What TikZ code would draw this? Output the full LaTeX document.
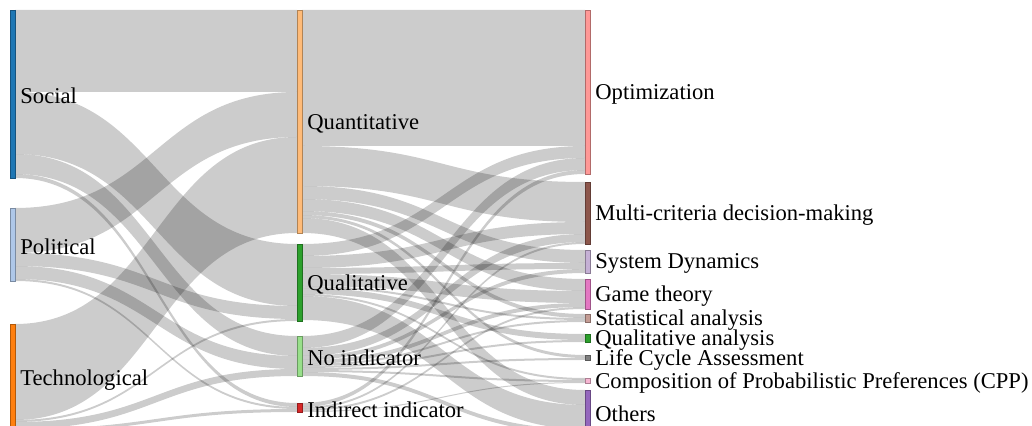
\documentclass[tikz,border=0pt]{standalone}
\usepackage{fontspec}
\setmainfont{Liberation Serif}
\usetikzlibrary{calc,positioning}
\pgfdeclarelayer{bg}
\pgfsetlayers{bg,main}
\newcommand{\px}{0.5pt}
\definecolor{cSoc}{HTML}{1F77B4}
\definecolor{cPol}{HTML}{AEC7E8}
\definecolor{cTech}{HTML}{FF7F0E}
\definecolor{cQuant}{HTML}{FFBB78}
\definecolor{cQual}{HTML}{2CA02C}
\definecolor{cNoInd}{HTML}{98DF8A}
\definecolor{cInd}{HTML}{D62728}
\definecolor{cOpt}{HTML}{FF9896}
\definecolor{cMcdm}{HTML}{8C564B}
\definecolor{cSd}{HTML}{C5B0D5}
\definecolor{cGt}{HTML}{E377C2}
\definecolor{cSa}{HTML}{C49C94}
\definecolor{cQa}{HTML}{2CA02C}
\definecolor{cLca}{HTML}{7F7F7F}
\definecolor{cCpp}{HTML}{F7B6D2}
\definecolor{cOth}{HTML}{9467BD}
\tikzset{
  bar/.style={rectangle, inner sep=0pt, outer sep=0pt, anchor=north west,
    minimum width=5*\px, fill=#1, draw=#1!70!black, line width=0.3pt},
  lbl/.style={inner sep=0pt, yshift=-1pt, font=\fontsize{11.3}{12}\selectfont},
  flow/.style={fill=black, fill opacity=0.2},
}
\begin{document}
\begin{tikzpicture}[x=\px, y=-\px]
  \useasboundingbox (0,0) rectangle (1032,426);
  \clip (0,0) rectangle (1032,426);
  % dimensions
  \node[bar=cSoc, minimum height=168*\px] (soc) at (10,10) {};
  \node[bar=cPol, minimum height=73*\px] (pol) at (10,208) {};
  \node[bar=cTech, minimum height=108*\px] (tech) at (10,324) {};
  % indicators
  \node[bar=cQuant, minimum height=223*\px] (quant) at (297,10) {};
  \node[bar=cQual, minimum height=77*\px] (qual) at (297,244) {};
  \node[bar=cNoInd, minimum height=40*\px] (noind) at (297,336) {};
  \node[bar=cInd, minimum height=9*\px] (indir) at (297,403) {};
  % methods
  \node[bar=cOpt, minimum height=164*\px] (opt) at (585,10) {};
  \node[bar=cMcdm, minimum height=62*\px] (mcdm) at (585,182) {};
  \node[bar=cSd, minimum height=23*\px] (sd) at (585,250) {};
  \node[bar=cGt, minimum height=30*\px] (gt) at (585,279) {};
  \node[bar=cSa, minimum height=8*\px] (sa) at (585,314) {};
  \node[bar=cQa, minimum height=8*\px] (qa) at (585,334) {};
  \node[bar=cLca, minimum height=5*\px] (lca) at (585,355) {};
  \node[bar=cCpp, minimum height=5*\px] (cpp) at (585,378) {};
  \node[bar=cOth, minimum height=43*\px] (oth) at (585,390) {};
  \foreach \n/\t in {soc/Social, pol/Political, tech/Technological,
    quant/Quantitative, qual/Qualitative, noind/No indicator, indir/Indirect indicator,
    opt/Optimization, mcdm/Multi-criteria decision-making, sd/System Dynamics,
    gt/Game theory, sa/Statistical analysis, qa/Qualitative analysis,
    lca/Life Cycle Assessment, cpp/Composition of Probabilistic Preferences (CPP), oth/Others}
    \node[lbl, right=2.5pt of \n] (\n-l) {\t};
  \begin{pgfonlayer}{bg}
    \clip (0,0) rectangle (1032,426);
    \foreach \src/\soff/\dst/\doff/\w in {
      soc/0/quant/0/82, soc/82/qual/0/62, soc/144/noind/0/20, soc/164/indir/0/4,
      pol/0/quant/82/45, pol/45/qual/62/13, pol/58/noind/20/13, pol/71/indir/4/2,
      tech/0/quant/127/96, tech/96/qual/75/2, tech/98/noind/33/7, tech/105/indir/6/3,
      quant/0/opt/0/136, quant/136/mcdm/0/40, quant/176/sd/0/13, quant/189/gt/0/12,
      quant/201/sa/0/4, quant/205/lca/0/3, quant/208/oth/0/15,
      qual/0/opt/136/12, qual/12/mcdm/40/12, qual/24/sd/13/6, qual/30/gt/12/12,
      qual/42/sa/4/2, qual/44/qa/0/6, qual/50/cpp/0/2, qual/52/oth/15/24,
      noind/0/opt/148/12, noind/12/mcdm/52/8, noind/20/sd/19/4, noind/24/gt/24/4,
      noind/28/sa/6/2, noind/30/qa/6/2, noind/32/lca/3/2, noind/34/cpp/2/2, noind/36/oth/39/4,
      indir/0/opt/160/4, indir/4/mcdm/60/2, indir/6/gt/28/2, indir/8/cpp/4/1} {
      \fill[flow] let \p1=($(\src.north east)+(0,\soff)$), \p2=($(\dst.north west)+(0,\doff)$),
        \p3=($(\src.north east)+(0,\soff+\w)$), \p4=($(\dst.north west)+(0,\doff+\w)$) in
        (\p1) .. controls ({(\x1+\x2)/2},\y1) and ({(\x1+\x2)/2},\y2) .. (\p2)
        -- (\p4) .. controls ({(\x1+\x2)/2},\y4) and ({(\x1+\x2)/2},\y3) .. (\p3) -- cycle;
    }
  \end{pgfonlayer}
\end{tikzpicture}
\end{document}
